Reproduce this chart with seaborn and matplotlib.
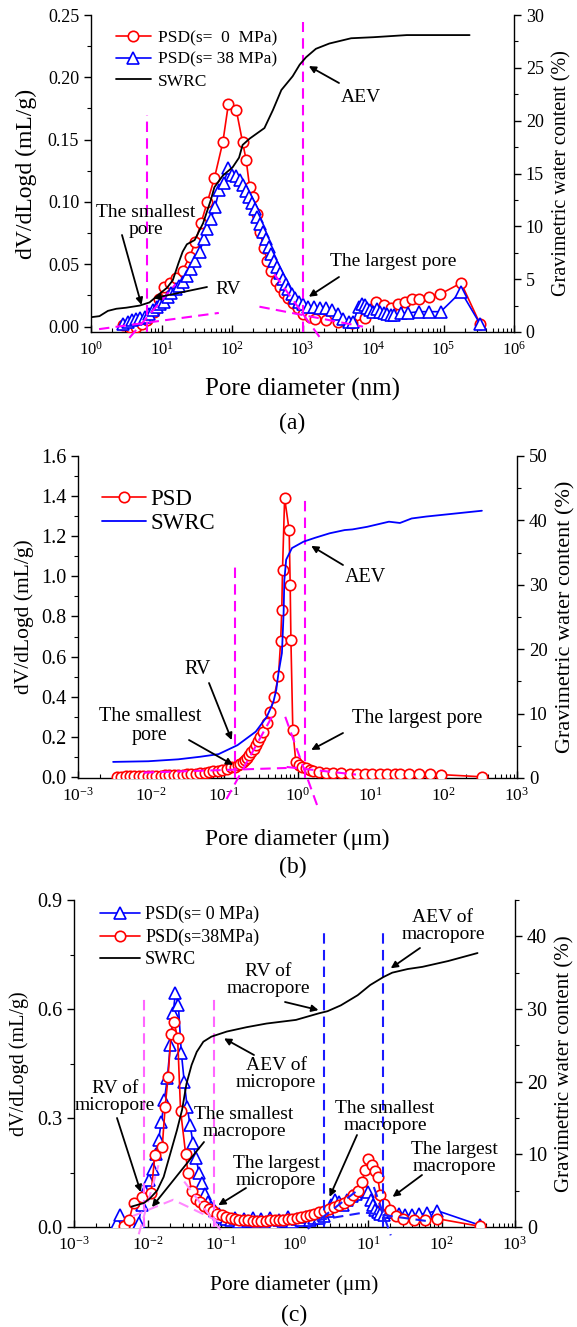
import numpy as np
import matplotlib
matplotlib.use("Agg")
import matplotlib.pyplot as plt
from matplotlib.lines import Line2D
from matplotlib.ticker import (LogLocator, NullFormatter, MultipleLocator, FormatStrFormatter,
                               FixedLocator, LogFormatterSciNotation)
import seaborn as sns

sns.set_theme(style="ticks")
plt.rcParams["font.family"] = ["Liberation Serif", "DejaVu Serif"]
plt.rcParams["mathtext.fontset"] = "custom"
plt.rcParams["mathtext.rm"] = "Liberation Serif"
plt.rcParams["mathtext.it"] = "Liberation Serif:italic"
plt.rcParams["mathtext.bf"] = "Liberation Serif:bold"
for key in ["axes.edgecolor", "xtick.color", "ytick.color", "text.color", "axes.labelcolor"]:
    plt.rcParams[key] = "black"
plt.rcParams["axes.linewidth"] = 1.0

# ---------------- (a) pore size in nm, log10 of diameter ----------------
a_s0_logd = [0.45, 0.55, 0.64, 0.72, 0.80, 0.90, 0.97, 1.04, 1.12, 1.21, 1.30, 1.40, 1.48, 1.56, 1.65,
             1.75, 1.87, 1.95, 2.06, 2.15, 2.20, 2.25, 2.30, 2.35, 2.40, 2.45, 2.50, 2.56, 2.62, 2.68,
             2.74, 2.80, 2.86, 2.93, 3.00, 3.10, 3.18, 3.33, 3.50, 3.70, 3.88, 4.04, 4.15, 4.25, 4.35,
             4.45, 4.55, 4.65, 4.80, 4.95, 5.25, 5.52]
a_s0_psd = [0.001, 0.000, 0.000, 0.002, 0.005, 0.012, 0.022, 0.032, 0.035, 0.039, 0.045, 0.056, 0.068, 0.083, 0.100,
            0.119, 0.148, 0.179, 0.174, 0.148, 0.134, 0.112, 0.104, 0.090, 0.076, 0.063, 0.053, 0.045, 0.037, 0.032,
            0.027, 0.023, 0.019, 0.015, 0.010, 0.008, 0.006, 0.005, 0.004, 0.003, 0.007, 0.020, 0.017, 0.015, 0.018,
            0.020, 0.022, 0.022, 0.024, 0.026, 0.035, 0.002]

a_s38_logd = [0.45, 0.52, 0.58, 0.64, 0.70, 0.76, 0.82, 0.88, 0.93, 0.98, 1.04, 1.09, 1.14, 1.20, 1.25,
              1.30, 1.36, 1.42, 1.48, 1.54, 1.60, 1.65, 1.70, 1.76, 1.82, 1.88, 1.95, 2.00, 2.06, 2.11,
              2.15, 2.20, 2.24, 2.28, 2.32, 2.36, 2.40, 2.44, 2.48, 2.52, 2.56, 2.60, 2.64, 2.68, 2.72,
              2.76, 2.80, 2.85, 2.90, 2.95, 3.00, 3.08, 3.16, 3.25, 3.33, 3.42, 3.50, 3.58, 3.66, 3.72,
              3.80, 3.84, 3.88, 3.92, 3.96, 4.00, 4.05, 4.10, 4.15, 4.20, 4.25, 4.30, 4.40, 4.50, 4.65,
              4.80, 4.96, 5.25, 5.52]
a_s38_psd = [0.002, 0.004, 0.005, 0.006, 0.007, 0.008, 0.010, 0.013, 0.016, 0.018, 0.020, 0.024, 0.027, 0.030, 0.033,
             0.036, 0.041, 0.046, 0.053, 0.060, 0.070, 0.078, 0.086, 0.096, 0.110, 0.115, 0.127, 0.122, 0.121, 0.118,
             0.114, 0.109, 0.104, 0.099, 0.094, 0.088, 0.082, 0.076, 0.070, 0.064, 0.058, 0.053, 0.048, 0.043, 0.038,
             0.034, 0.030, 0.026, 0.023, 0.020, 0.018, 0.016, 0.016, 0.015, 0.015, 0.013, 0.010, 0.006, 0.004, 0.004,
             0.016, 0.018, 0.017, 0.015, 0.013, 0.012, 0.014, 0.012, 0.011, 0.010, 0.009, 0.009, 0.011, 0.011, 0.012,
             0.012, 0.012, 0.028, 0.002]

a_swrc_logd = [0.00, 0.12, 0.24, 0.36, 0.50, 0.69, 0.83, 0.97, 1.08, 1.16, 1.24, 1.30, 1.36, 1.47, 1.59,
               1.70, 1.75, 1.87, 2.01, 2.10, 2.15, 2.25, 2.46, 2.58, 2.70, 2.86, 2.96, 3.05, 3.19, 3.38,
               3.69, 4.01, 4.48, 5.37]
a_swrc_w = [1.4, 1.5, 2.0, 2.2, 2.3, 2.5, 2.8, 3.6, 4.2, 4.9, 6.5, 7.6, 8.3, 8.7, 10.3,
            12.5, 13.7, 14.8, 15.6, 16.5, 17.7, 18.3, 19.3, 21.0, 22.9, 24.2, 25.3, 26.0, 26.8, 27.3,
            27.8, 27.9, 28.1, 28.1]

a_guide_d = [6.3, 1000.0]
a_guide_top = [0.170, 0.2445]
a_tangents = [[(1.3, -0.002), (65.0, 0.011)],
              [(3.5, -0.009), (15.8, 0.034)],
              [(245.0, 0.016), (7200.0, 0.0)],
              [(400.0, 0.042), (1780.0, -0.009)]]

# ---------------- (b) pore size in um ----------------
b_logd = [-2.47, -2.41, -2.35, -2.29, -2.23, -2.17, -2.11, -2.05, -1.99, -1.93, -1.87, -1.81, -1.75, -1.69, -1.63,
          -1.57, -1.51, -1.45, -1.39, -1.33, -1.27, -1.21, -1.15, -1.09, -1.03, -0.97, -0.91,
          -0.86, -0.82, -0.78, -0.75, -0.72, -0.69, -0.66, -0.63, -0.60, -0.57, -0.54, -0.51, -0.47, -0.42,
          -0.37, -0.32, -0.26, -0.23, -0.215, -0.205,
          -0.176, -0.114, -0.100, -0.090, -0.064, -0.023, 0.02, 0.06,
          0.114, 0.17, 0.215, 0.30, 0.39, 0.49, 0.593, 0.72, 0.82, 0.92, 1.02, 1.13, 1.23, 1.33, 1.40,
          1.53, 1.66, 1.81, 1.96, 2.52]
b_psd = [0.002, 0.002, 0.003, 0.003, 0.004, 0.004, 0.005, 0.005, 0.006, 0.006, 0.007, 0.008, 0.009, 0.010, 0.011,
         0.012, 0.013, 0.015, 0.017, 0.019, 0.021, 0.024, 0.028, 0.032, 0.037, 0.042, 0.048,
         0.052, 0.058, 0.066, 0.076, 0.086, 0.097, 0.110, 0.125, 0.140, 0.160, 0.180, 0.200, 0.226, 0.270,
         0.325, 0.400, 0.503, 0.680, 0.830, 1.030,
         1.390, 1.230, 0.957, 0.683, 0.234, 0.076, 0.058, 0.050,
         0.043, 0.036, 0.030, 0.025, 0.022, 0.020, 0.018, 0.016, 0.015, 0.014, 0.013, 0.013, 0.014, 0.015, 0.015,
         0.014, 0.013, 0.013, 0.012, 0.001]

b_swrc_logd = [-2.52, -2.04, -1.63, -1.33, -1.08, -0.82, -0.57, -0.42, -0.33, -0.29, -0.26, -0.213, -0.19, -0.18,
               -0.155, -0.076, 0.083, 0.24, 0.44, 0.645, 0.75, 0.95, 1.25, 1.40, 1.56, 1.76, 2.52]
b_swrc_w = [2.5, 2.6, 2.9, 3.3, 3.7, 5.1, 7.2, 9.5, 11.8, 13.7, 16.3, 19.4, 25.6, 30.7,
            33.9, 35.7, 36.7, 37.3, 38.0, 38.5, 38.6, 39.0, 39.8, 39.6, 40.3, 40.6, 41.5]

b_guide_d = [0.14, 1.25]
b_guide_top = [1.057, 1.39]
b_tangents = [[(0.0079, 0.022), (0.71, 0.045)],
              [(0.71, 0.050), (6.3, 0.012)],
              [(0.107, -0.11), (0.447, 0.30)],
              [(0.68, 0.30), (1.85, -0.14)]]

# ---------------- (c) pore size in um ----------------
c_s0_logd = [-2.42, -2.37, -2.30, -2.20, -2.12, -2.08, -2.03, -1.98, -1.93, -1.89, -1.85, -1.81, -1.77, -1.73, -1.69,
             -1.65, -1.62, -1.58, -1.54, -1.50, -1.46, -1.42, -1.38, -1.34, -1.30, -1.26, -1.22, -1.18, -1.13, -1.08,
             -1.03, -0.98, -0.93,
             -0.87, -0.81, -0.75, -0.69, -0.63, -0.57, -0.51, -0.45, -0.39, -0.33, -0.27, -0.21, -0.15, -0.09, -0.03,
             0.03, 0.09, 0.15, 0.21, 0.27, 0.33,
             0.40, 0.45, 0.50, 0.55, 0.60, 0.66, 0.72, 0.78, 0.84, 0.90, 0.96, 1.00, 1.04, 1.07, 1.10,
             1.13, 1.17, 1.22, 1.28, 1.34, 1.42, 1.50, 1.60, 1.70, 1.80, 1.94, 2.52]
c_s0_psd = [0.010, 0.032, 0.005, 0.004, 0.012, 0.060, 0.100, 0.130, 0.160, 0.200, 0.240, 0.290, 0.350, 0.410, 0.500,
            0.590, 0.645, 0.610, 0.480, 0.400, 0.330, 0.280, 0.230, 0.190, 0.150, 0.120, 0.090, 0.070, 0.055, 0.043,
            0.035, 0.028, 0.022,
            0.018, 0.024, 0.014, 0.022, 0.016, 0.026, 0.013, 0.021, 0.015, 0.025, 0.012, 0.020, 0.017, 0.027, 0.014,
            0.022, 0.018, 0.028, 0.020, 0.026, 0.024,
            0.030, 0.045, 0.060, 0.075, 0.070, 0.060, 0.075, 0.085, 0.092, 0.100, 0.105, 0.095, 0.075, 0.060, 0.048,
            0.040, 0.035, 0.032, 0.040, 0.041, 0.035, 0.033, 0.032, 0.035, 0.038, 0.045, 0.005]

c_s38_logd = [-2.32, -2.25, -2.19, -2.08, -1.95, -1.90, -1.80, -1.76, -1.72, -1.68, -1.64, -1.59, -1.55, -1.48, -1.45,
              -1.40, -1.34, -1.29, -1.23, -1.17, -1.11, -1.05, -0.99, -0.93, -0.87, -0.81, -0.75, -0.69, -0.63, -0.57,
              -0.51, -0.45, -0.39, -0.33, -0.27, -0.21, -0.15, -0.09, -0.03, 0.03, 0.09, 0.15, 0.21, 0.27, 0.33,
              0.40, 0.47, 0.54, 0.61, 0.68, 0.74, 0.80, 0.86, 0.92, 0.96, 1.00, 1.05, 1.10, 1.13, 1.17,
              1.22, 1.30, 1.38, 1.48, 1.62, 1.78, 1.94, 2.52]
c_s38_psd = [0.003, 0.020, 0.066, 0.083, 0.094, 0.198, 0.219, 0.330, 0.413, 0.530, 0.565, 0.520, 0.320, 0.200, 0.150,
             0.100, 0.078, 0.068, 0.058, 0.050, 0.044, 0.037, 0.032, 0.027, 0.024, 0.022, 0.020, 0.019, 0.018, 0.017,
             0.017, 0.017, 0.017, 0.018, 0.018, 0.019, 0.020, 0.021, 0.023, 0.025, 0.027, 0.030, 0.033, 0.036, 0.040,
             0.045, 0.050, 0.055, 0.060, 0.067, 0.075, 0.087, 0.100, 0.124, 0.156, 0.188, 0.170, 0.155, 0.138, 0.087,
             0.064, 0.048, 0.030, 0.022, 0.020, 0.020, 0.023, 0.002]

c_swrc_logd = [-2.22, -2.05, -1.97, -1.87, -1.78, -1.69, -1.60, -1.53, -1.47, -1.40, -1.33, -1.24, -1.13, -0.92,
               -0.65, -0.38, 0.02, 0.33, 0.45, 0.63, 0.86, 1.03, 1.21, 1.33, 1.54, 1.74, 2.09, 2.49]
c_swrc_w = [2.8, 3.3, 3.9, 5.0, 6.9, 10.1, 13.3, 16.1, 19.7, 22.3, 24.1, 25.5, 26.2, 26.9,
            27.5, 28.0, 28.5, 29.4, 29.7, 30.5, 31.9, 33.3, 34.4, 35.0, 35.5, 35.8, 36.6, 37.7]

c_micro_guide_d = [0.0091, 0.080]
c_micro_guide_top = [0.638, 0.638]
c_macro_guide_d = [2.5, 16.2]
c_macro_guide_top = [0.808, 0.808]
c_micro_tangents = [[(0.0076, -0.02), (0.0141, 0.17)],
                    [(0.0063, 0.030), (0.0224, 0.075), (0.100, 0.012)],
                    [(0.0316, 0.125), (0.100, -0.010)]]
c_macro_tangents = [[(1.51, -0.005), (7.1, 0.100)],
                    [(12.0, 0.110), (20.4, -0.023)],
                    [(2.0, 0.018), (8.9, 0.040), (71.0, 0.015)]]

# ---------------- layout helpers (pixel geometry of the figure) ----------------
W, H = 577, 1327
fig = plt.figure(figsize=(W / 100, H / 100), dpi=100)
RED, BLUE, MAG = "#ff0000", "#0000ff", "#ff00ff"
LIGHT_MAG, DASH_BLUE = "#ff66ff", "#1a1aff"
DASH = (0, (5, 3))


def frac(x, y):
    return (x / W, 1 - y / H)


def add_axes(l, r, t, b):
    return fig.add_axes([l / W, 1 - b / H, (r - l) / W, (b - t) / H])


def style(ax, ax2, decades, ylim, ylim2, ymaj, ymin, yfmt, y2maj, y2min, fs_y, fs_y2, fs_x):
    lo, hi = decades
    ax.set_xscale("log")
    ax.set_xlim(10.0 ** lo, 10.0 ** hi)
    ax.set_ylim(*ylim)
    ax2.set_ylim(*ylim2)
    ax.xaxis.set_major_locator(FixedLocator(10.0 ** np.arange(lo, hi + 1)))
    ax.xaxis.set_major_formatter(LogFormatterSciNotation())
    minor = [m * 10.0 ** k for k in range(lo, hi) for m in range(2, 10)]
    ax.xaxis.set_minor_locator(FixedLocator(minor))
    ax.xaxis.set_minor_formatter(NullFormatter())
    ax.yaxis.set_major_locator(MultipleLocator(ymaj))
    ax.yaxis.set_minor_locator(MultipleLocator(ymin))
    ax.yaxis.set_major_formatter(FormatStrFormatter(yfmt))
    ax2.yaxis.set_major_locator(MultipleLocator(y2maj))
    ax2.yaxis.set_minor_locator(MultipleLocator(y2min))
    ax2.yaxis.set_major_formatter(FormatStrFormatter("%d"))
    ax.spines["top"].set_visible(False)
    ax.spines["right"].set_visible(False)
    ax2.spines["top"].set_visible(False)
    ax2.spines["left"].set_visible(False)
    ax2.spines["bottom"].set_visible(False)
    ax.tick_params(axis="x", which="major", direction="in", length=5, width=1, labelsize=fs_x, pad=6, top=False)
    ax.tick_params(axis="x", which="minor", direction="in", length=3, width=0.8, top=False)
    ax.tick_params(axis="y", which="major", direction="out", length=5, width=1, labelsize=fs_y, right=False)
    ax.tick_params(axis="y", which="minor", direction="out", length=3, width=0.8, right=False)
    ax2.tick_params(axis="y", which="major", direction="out", length=5, width=1, labelsize=fs_y2)
    ax2.tick_params(axis="y", which="minor", direction="out", length=3, width=0.8)


def psd_line(ax, logd, vals, color, marker, ms):
    sns.lineplot(x=np.power(10.0, logd), y=vals, ax=ax, color=color, lw=1.2, marker=marker,
                 markersize=ms, markerfacecolor="white", markeredgecolor=color, markeredgewidth=1.2,
                 sort=False, estimator=None, zorder=3)


def swrc_line(ax2, logd, w, color):
    sns.lineplot(x=np.power(10.0, logd), y=w, ax=ax2, color=color, lw=1.3, sort=False, estimator=None)


def guides(ax, ds, tops, color, ybottom):
    for d, top in zip(ds, tops):
        ax.plot([d, d], [ybottom, top], color=color, lw=1.5, ls=DASH, zorder=4)


def tangents(ax, segs, color):
    for seg in segs:
        xs = [p[0] for p in seg]
        ys = [p[1] for p in seg]
        ax.plot(xs, ys, color=color, lw=1.5, ls=DASH, zorder=4, clip_on=False)


def note(ax_host, ax_data, text, tip, tail, pos, fs):
    ax_host.annotate("", xy=tip, xycoords=ax_data.transData, xytext=frac(*tail),
                     textcoords="figure fraction",
                     arrowprops=dict(arrowstyle="-|>", color="black", lw=1.3, mutation_scale=10,
                                     shrinkA=0, shrinkB=0))
    fig.text(*frac(*pos), text, ha="center", va="center", fontsize=fs, linespacing=1.05)


# ======================= panel (a) =======================
ax = add_axes(91, 514, 15, 332)
ax2 = ax.twinx()
style(ax, ax2, (0, 6), (-0.0043, 0.25), (0, 30), 0.05, 0.025, "%.2f", 5, 2.5, 13, 13, 12)
psd_line(ax, a_s0_logd, a_s0_psd, RED, "o", 7.5)
psd_line(ax, a_s38_logd, a_s38_psd, BLUE, "^", 8)
swrc_line(ax2, a_swrc_logd, a_swrc_w, "black")
guides(ax, a_guide_d, a_guide_top, MAG, -0.0043)
tangents(ax, a_tangents, MAG)
ax.set_xlabel("Pore diameter (nm)", fontsize=18, labelpad=14)
ax.set_ylabel("dV/dLogd (mL/g)", fontsize=17, labelpad=8)
ax2.set_ylabel("Gravimetric water content (%)", fontsize=14.5, labelpad=6)
note(ax2, ax, "AEV", (1230, 0.209), (339, 83), (361, 97), 14)
note(ax2, ax, "The smallest\npore", (5.2, 0.0174), (122, 235), (146, 221), 14)
note(ax2, ax, "RV", (7.7, 0.0228), (207, 287), (228, 290), 14)
note(ax2, ax, "The largest pore", (1230, 0.024), (339, 277), (393, 262), 14)
handles = [Line2D([], [], color=RED, marker="o", ms=7.5, mfc="white", mec=RED, mew=1.2, lw=1.2),
           Line2D([], [], color=BLUE, marker="^", ms=8, mfc="white", mec=BLUE, mew=1.2, lw=1.2),
           Line2D([], [], color="black", lw=1.3)]
ax2.legend(handles, ["PSD(s=  0  MPa)", "PSD(s= 38 MPa)", "SWRC"], loc="upper left",
           bbox_to_anchor=frac(116, 30), bbox_transform=fig.transFigure, frameon=False,
           fontsize=12.5, handlelength=2.0, handletextpad=0.4, labelspacing=0.32,
           borderpad=0, borderaxespad=0)
fig.text(*frac(292, 423), "(a)", ha="center", va="center", fontsize=17)

# ======================= panel (b) =======================
bx = add_axes(78, 517, 456, 778)
bx2 = bx.twinx()
style(bx, bx2, (-3, 3), (-0.005, 1.6), (0, 50), 0.2, 0.1, "%.1f", 10, 5, 14.5, 13.5, 12.5)
psd_line(bx, b_logd, b_psd, RED, "o", 7.5)
swrc_line(bx2, b_swrc_logd, b_swrc_w, BLUE)
guides(bx, b_guide_d, b_guide_top, MAG, -0.005)
tangents(bx, b_tangents, MAG)
bx.set_xlabel("Pore diameter (\u03bcm)", fontsize=17, labelpad=18)
bx.set_ylabel("dV/dLogd (mL/g)", fontsize=15.5, labelpad=5)
bx2.set_ylabel("Gravimetric water content (%)", fontsize=16, labelpad=6)
note(bx2, bx, "AEV", (1.54, 1.152), (343, 565), (365, 577), 14.5)
note(bx2, bx, "RV", (0.126, 0.184), (209, 683), (198, 670), 14.5)
note(bx2, bx, "The smallest\npore", (0.132, 0.06), (189, 740), (150, 726), 14.5)
note(bx2, bx, "The largest pore", (1.54, 0.135), (343, 733), (417, 718), 14.5)
handles_b = [Line2D([], [], color=RED, marker="o", ms=7.5, mfc="white", mec=RED, mew=1.2, lw=1.2),
             Line2D([], [], color=BLUE, lw=1.3)]
bx2.legend(handles_b, ["PSD", "SWRC"], loc="upper left", bbox_to_anchor=frac(102, 489),
           bbox_transform=fig.transFigure, frameon=False, fontsize=16.5, handlelength=1.9,
           handletextpad=0.2, labelspacing=0.12, borderpad=0, borderaxespad=0)
fig.text(*frac(293, 867), "(b)", ha="center", va="center", fontsize=17)

# ======================= panel (c) =======================
cx = add_axes(74, 515, 900, 1227)
cx2 = cx.twinx()
style(cx, cx2, (-3, 3), (0, 0.9), (0, 45), 0.3, 0.15, "%.1f", 10, 5, 14.5, 14.5, 12.5)
psd_line(cx, c_s0_logd, c_s0_psd, BLUE, "^", 8)
psd_line(cx, c_s38_logd, c_s38_psd, RED, "o", 7.5)
swrc_line(cx2, c_swrc_logd, c_swrc_w, "black")
guides(cx, c_micro_guide_d, c_micro_guide_top, LIGHT_MAG, 0)
guides(cx, c_macro_guide_d, c_macro_guide_top, DASH_BLUE, 0)
tangents(cx, c_micro_tangents, "#ff88ff")
tangents(cx, c_macro_tangents, DASH_BLUE)
cx.set_xlabel("Pore diameter (\u03bcm)", fontsize=15.5, labelpad=16)
cx.set_ylabel("dV/dLogd (mL/g)", fontsize=14.5, labelpad=6)
cx2.set_ylabel("Gravimetric water content (%)", fontsize=15, labelpad=6)
note(cx2, cx, "AEV of\nmacropore", (20.4, 0.712), (420, 948), (443, 926), 14)
note(cx2, cx, "RV of\nmacropore", (2.12, 0.597), (285, 1002), (268, 980), 14)
note(cx2, cx, "AEV of\nmicropore", (0.11, 0.519), (254, 1055), (276, 1074), 14)
note(cx2, cx, "RV of\nmicropore", (0.0081, 0.096), (117, 1118), (115, 1097), 14)
note(cx2, cx, "The smallest\nmacropore", (0.0115, 0.055), (204, 1142), (244, 1123), 14)
note(cx2, cx, "The largest\nmicropore", (0.092, 0.060), (246, 1188), (276, 1172), 14)
note(cx2, cx, "The smallest\nmacropore", (3.0, 0.083), (357, 1135), (385, 1117), 14)
note(cx2, cx, "The largest\nmacropore", (21.6, 0.083), (422, 1175), (454, 1158), 14)
handles_c = [Line2D([], [], color=BLUE, marker="^", ms=8, mfc="white", mec=BLUE, mew=1.2, lw=1.2),
             Line2D([], [], color=RED, marker="o", ms=7.5, mfc="white", mec=RED, mew=1.2, lw=1.2),
             Line2D([], [], color="black", lw=1.3)]
cx2.legend(handles_c, ["PSD(s= 0 MPa)", "PSD(s=38MPa)", "SWRC"], loc="upper left",
           bbox_to_anchor=frac(100, 906), bbox_transform=fig.transFigure, frameon=False,
           fontsize=13, handlelength=2.2, handletextpad=0.3, labelspacing=0.3,
           borderpad=0, borderaxespad=0)
fig.text(*frac(294, 1315), "(c)", ha="center", va="center", fontsize=17)

fig.savefig("out.png", dpi=100)
